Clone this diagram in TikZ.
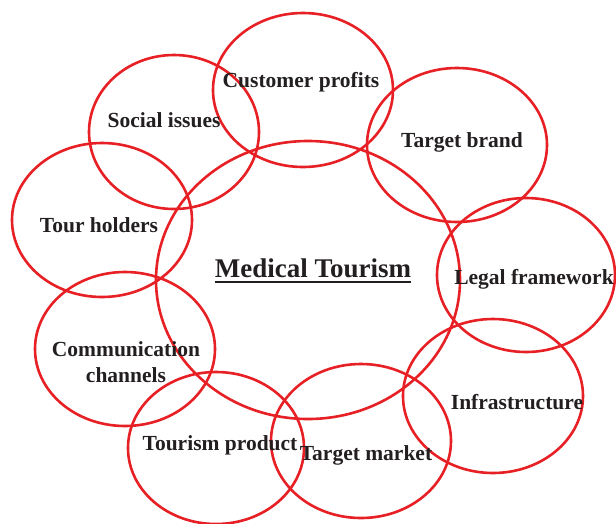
\documentclass[tikz,border=0pt]{standalone}
\usepackage{fontspec}
\setmainfont{Liberation Serif}
\usetikzlibrary{calc}
\definecolor{ringred}{RGB}{230,32,36}
\definecolor{labelink}{RGB}{35,31,32}
\begin{document}
\begin{tikzpicture}[x=1pt,y=-1pt,
  ring/.style={draw=ringred,line width=2.6pt},
  lbl/.style={text=labelink,font=\bfseries\fontsize{21.5}{26.5}\selectfont,inner sep=0pt,anchor=base},
  title/.style={text=labelink,font=\bfseries\fontsize{27}{32}\selectfont,inner sep=0pt,anchor=base}]
\useasboundingbox (0,0) rectangle (616,523);
% central ring
\draw[ring] (308,280) ellipse [x radius=152, y radius=139];
% surrounding rings
\draw[ring] (303,90)  ellipse [x radius=90, y radius=77]; % customer profits
\draw[ring] (174,132) ellipse [x radius=85, y radius=77]; % social issues
\draw[ring] (457,145) ellipse [x radius=90, y radius=77]; % target brand
\draw[ring] (102,220) ellipse [x radius=90, y radius=77]; % tour holders
\draw[ring] (526,275) ellipse [x radius=89, y radius=77]; % legal framework
\draw[ring] (125,349) ellipse [x radius=90, y radius=77]; % communication channels
\draw[ring] (493,396) ellipse [x radius=90, y radius=77]; % infrastructure
\draw[ring] (216,448) ellipse [x radius=88, y radius=76]; % tourism product
\draw[ring] (361,441) ellipse [x radius=90, y radius=77]; % target market
% labels
\node[title] (mt) at (313,277) {Medical Tourism};
\draw[labelink,line width=2pt] ($(mt.base west)+(0,5)$) -- ($(mt.base east)+(0,5)$);
\node[lbl] (cp) at (301,87)  {Customer profits};
\node[lbl] (si) at (164,127) {Social issues};
\node[lbl] (tb) at (462,147) {Target brand};
\node[lbl] (th) at (99,232)  {Tour holders};
\node[lbl] (lf) at (534,284) {Legal framework};
\node[lbl,anchor=center,align=center] (cc) at (126,362) {Communication\\channels};
\node[lbl] (in) at (517,409) {Infrastructure};
\node[lbl] (tp) at (220,450) {Tourism product};
\node[lbl] (tm) at (366,460) {Target market};
\end{tikzpicture}
\end{document}
